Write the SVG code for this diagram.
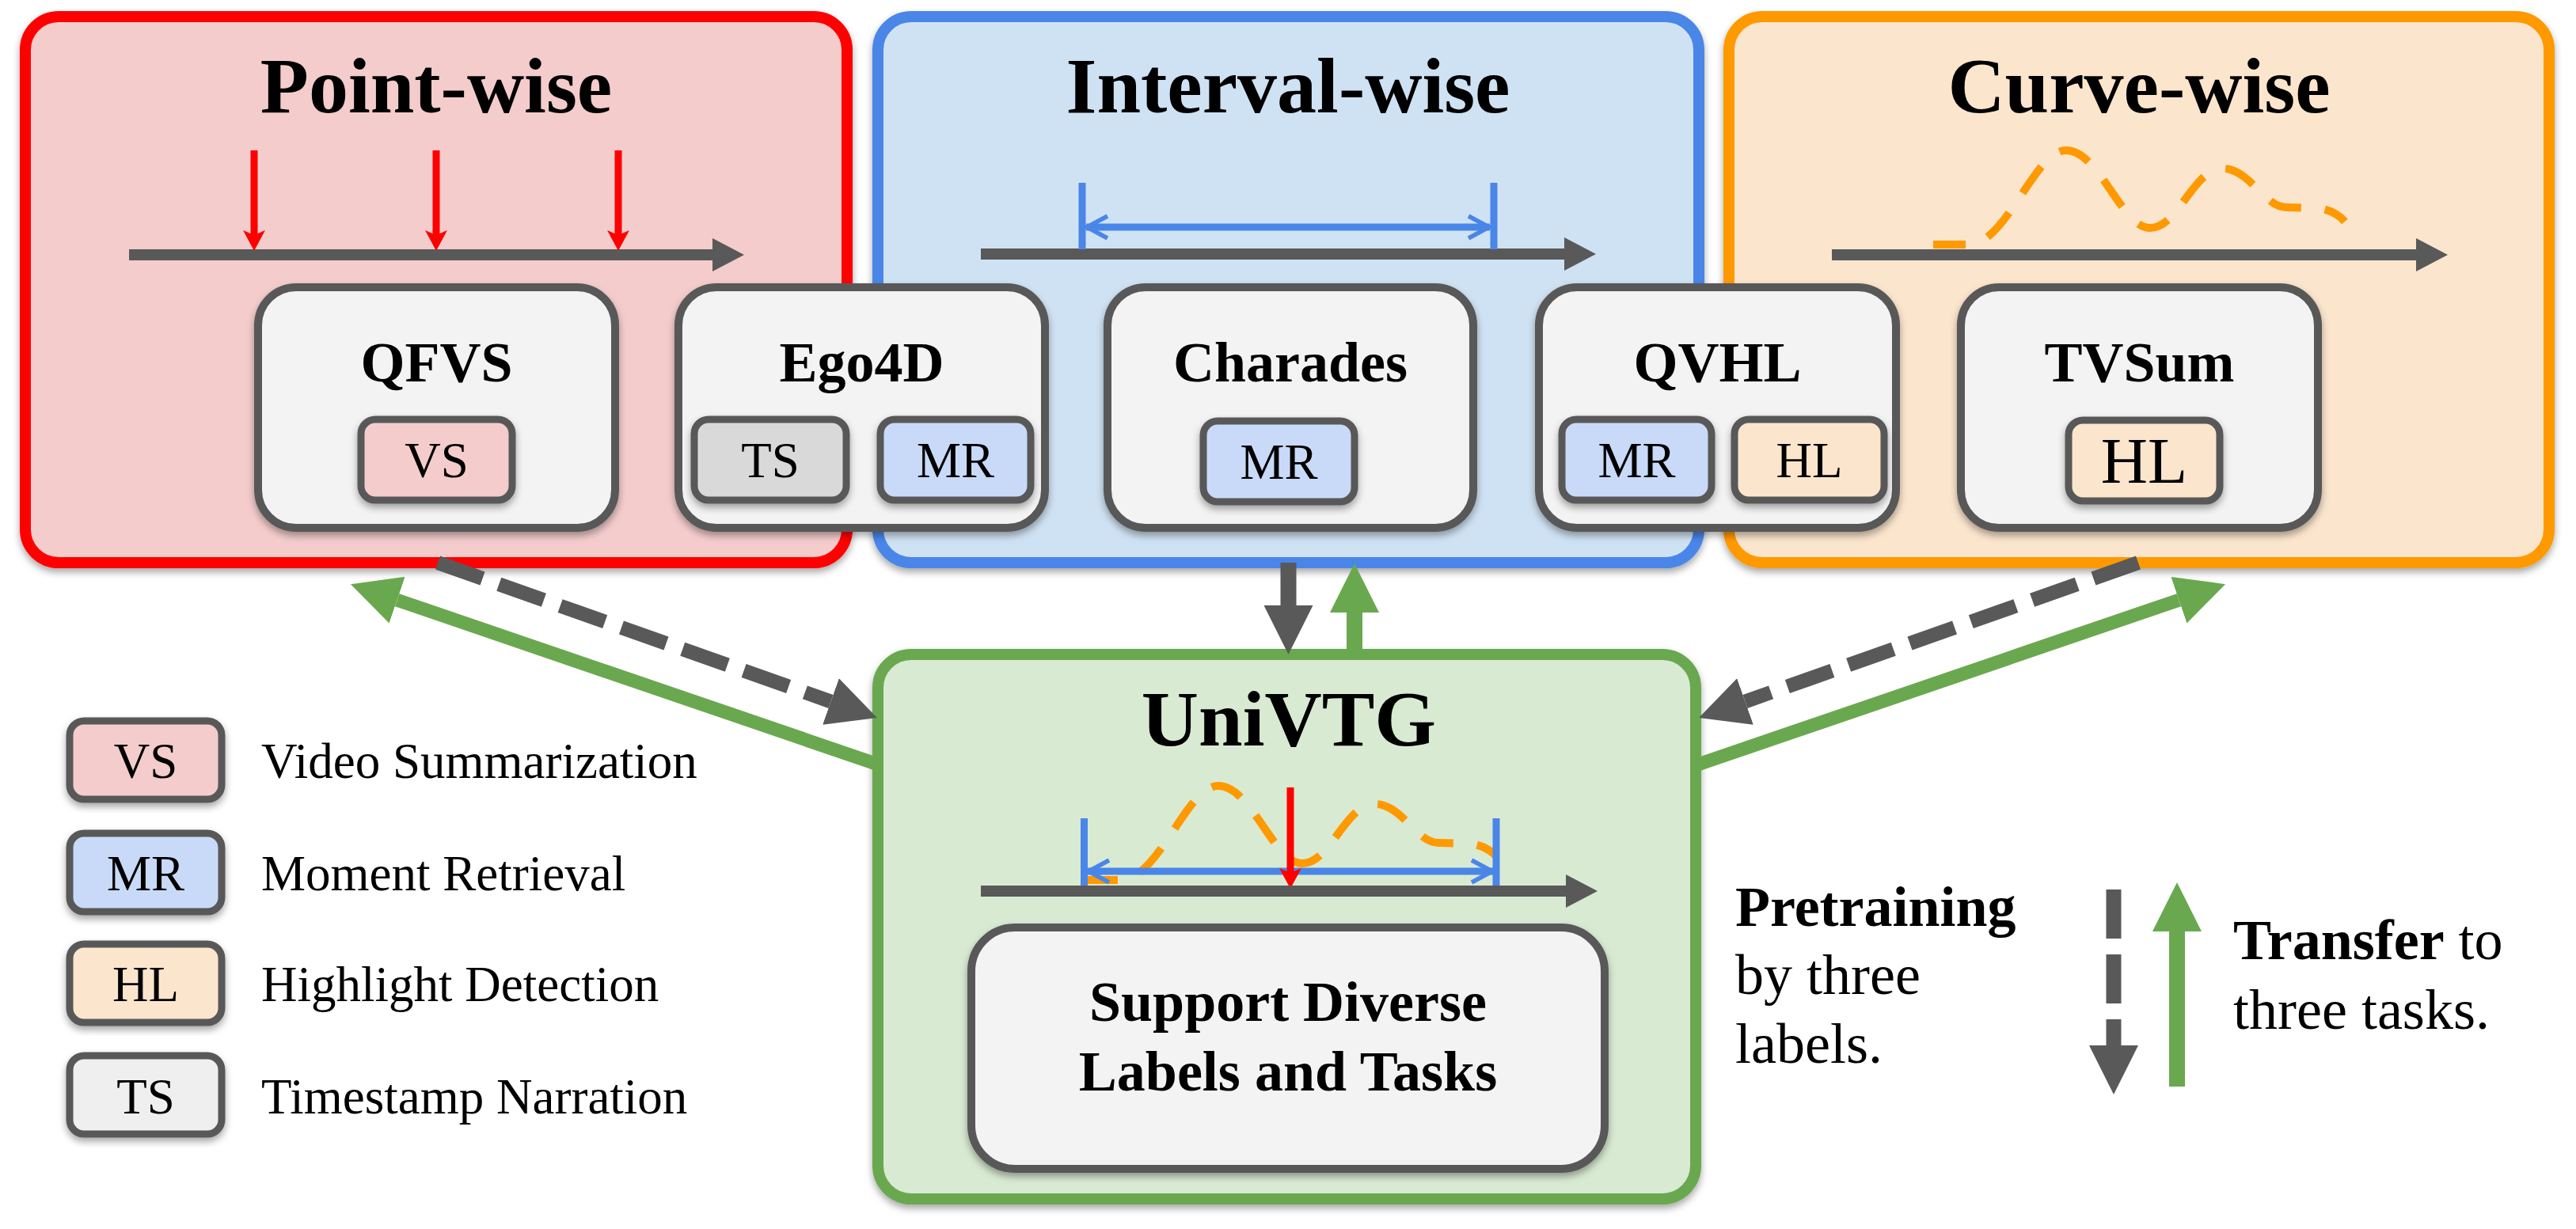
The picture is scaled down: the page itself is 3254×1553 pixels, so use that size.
<svg xmlns="http://www.w3.org/2000/svg" width="3254" height="1553" viewBox="0 0 3254 1553">
<defs>
<style>
.t{font-family:"Liberation Serif","Times New Roman",serif;fill:#000}
.title{font-size:100px;font-weight:bold;text-anchor:middle}
.nt{font-size:72px;font-weight:bold;text-anchor:middle}
.lb{font-size:63px;text-anchor:middle}
.lg{font-size:63px}
.side{font-size:72px}
.inner{fill:#f3f3f3;stroke:#595959;stroke-width:10}
.small{stroke:#595959;stroke-width:9}
.axis{stroke:#595959;stroke-width:14;fill:none}
.vs{fill:#f4cccc}.mr{fill:#c9daf8}.hl{fill:#fce5cd}.ts{fill:#d9d9d9}.ts2{fill:#efefef}
.bar{stroke:#4a86e8;stroke-width:9;fill:none}
.red{stroke:#ff0000;stroke-width:9;fill:none}
.curve{stroke:#ff9900;stroke-width:10;fill:none;stroke-dasharray:41 30}
</style>
<filter id="sh" x="-8%" y="-8%" width="116%" height="125%"><feDropShadow dx="0" dy="5" stdDeviation="5" flood-color="#000" flood-opacity="0.35"/></filter>
<marker id="axh" viewBox="0 -21 40 42" refX="0" refY="0" markerWidth="40" markerHeight="42" orient="auto" markerUnits="userSpaceOnUse"><path d="M0,-21 L40,0 L0,21 Z" fill="#595959"/></marker>
<marker id="ra" viewBox="0 -15 27 30" refX="6" refY="0" markerWidth="27" markerHeight="30" orient="auto" markerUnits="userSpaceOnUse"><path d="M0,-14 L26,0 L0,14 L6,0 Z" fill="#ff0000"/></marker>
<marker id="vb" viewBox="-32 -20 40 40" refX="0" refY="0" markerWidth="40" markerHeight="40" orient="auto-start-reverse" markerUnits="userSpaceOnUse"><path d="M-27,-14 L-1,0 L-27,14" fill="none" stroke="#4a86e8" stroke-width="5.5"/></marker>
<marker id="hg" viewBox="0 -31 62 62" refX="0" refY="0" markerWidth="62" markerHeight="62" orient="auto" markerUnits="userSpaceOnUse"><path d="M0,-31 L62,0 L0,31 Z" fill="#595959"/></marker>
<marker id="hgr" viewBox="0 -31 62 62" refX="0" refY="0" markerWidth="62" markerHeight="62" orient="auto" markerUnits="userSpaceOnUse"><path d="M0,-31 L62,0 L0,31 Z" fill="#6aa84f"/></marker>
<path id="crv" d="M2442,309 L2488,309 C2536,306 2570,190 2610,190 C2652,190 2680,288 2716,288 C2752,288 2770,213 2808,213 C2842,213 2860,262 2888,262 L2925,263 C2940,263 2955,272 2962,280"/>
</defs>

<g id="point-wise">
<rect x="32" y="21" width="1038" height="690" rx="42" fill="#f4cccc" stroke="#ff0000" stroke-width="14" filter="url(#sh)"/>
<text class="t title" x="551" y="142">Point-wise</text>
<path class="axis" d="M163,322 H900" marker-end="url(#axh)"/>
<path class="red" d="M321,190 V297" marker-end="url(#ra)"/>
<path class="red" d="M551,190 V297" marker-end="url(#ra)"/>
<path class="red" d="M781,190 V297" marker-end="url(#ra)"/>
</g>

<g id="interval-wise">
<rect x="1109" y="21" width="1037" height="690" rx="42" fill="#cfe2f3" stroke="#4a86e8" stroke-width="14" filter="url(#sh)"/>
<text class="t title" x="1627" y="142">Interval-wise</text>
<path class="axis" d="M1239,321 H1976" marker-end="url(#axh)"/>
<path class="bar" d="M1367,231 V315 M1887,231 V315"/>
<path class="bar" d="M1372,287 H1882" marker-start="url(#vb)" marker-end="url(#vb)"/>
</g>

<g id="curve-wise">
<rect x="2184" y="21" width="1036" height="690" rx="42" fill="#fce5cd" stroke="#ff9900" stroke-width="14" filter="url(#sh)"/>
<text class="t title" x="2702" y="142">Curve-wise</text>
<path class="axis" d="M2314,322 H3052" marker-end="url(#axh)"/>
<use href="#crv" class="curve"/>
</g>

<g id="qfvs">
<rect class="inner" x="326" y="363" width="451" height="304" rx="48" filter="url(#sh)"/>
<text class="t nt" x="551.5" y="482">QFVS</text>
<rect class="small vs" x="456" y="530" width="191" height="102" rx="18" filter="url(#sh)"/>
<text class="t lb" x="551.5" y="603">VS</text>
</g>

<g id="ego4d">
<rect class="inner" x="857" y="363" width="463" height="304" rx="48" filter="url(#sh)"/>
<text class="t nt" x="1088.5" y="482">Ego4D</text>
<rect class="small ts" x="877" y="530" width="192" height="102" rx="18" filter="url(#sh)"/>
<text class="t lb" x="973" y="603">TS</text>
<rect class="small mr" x="1112" y="530" width="190" height="102" rx="18" filter="url(#sh)"/>
<text class="t lb" x="1207" y="603">MR</text>
</g>

<g id="charades">
<rect class="inner" x="1399" y="363" width="462" height="304" rx="48" filter="url(#sh)"/>
<text class="t nt" x="1630" y="482">Charades</text>
<rect class="small mr" x="1520" y="532" width="191" height="102" rx="18" filter="url(#sh)"/>
<text class="t lb" x="1615.5" y="605">MR</text>
</g>

<g id="qvhl">
<rect class="inner" x="1944" y="363" width="451" height="304" rx="48" filter="url(#sh)"/>
<text class="t nt" x="2169.5" y="482">QVHL</text>
<rect class="small mr" x="1973" y="530" width="189" height="102" rx="18" filter="url(#sh)"/>
<text class="t lb" x="2067.5" y="603">MR</text>
<rect class="small hl" x="2191" y="530" width="189" height="102" rx="18" filter="url(#sh)"/>
<text class="t lb" x="2285.5" y="603">HL</text>
</g>

<g id="tvsum">
<rect class="inner" x="2477" y="363" width="451" height="304" rx="48" filter="url(#sh)"/>
<text class="t nt" x="2702.5" y="482">TVSum</text>
<rect class="small hl" x="2613" y="531" width="191" height="102" rx="18" filter="url(#sh)"/>
<text class="t lb" x="2708.5" y="610" style="font-size:82px">HL</text>
</g>

<g id="univtg">
<rect x="1109" y="827" width="1033" height="688" rx="42" fill="#d9ead3" stroke="#6aa84f" stroke-width="14" filter="url(#sh)"/>
<text class="t title" x="1628" y="942">UniVTG</text>
<use href="#crv" class="curve" transform="translate(-1071,803)"/>
<path class="bar" d="M1369.5,1034 V1120 M1890,1034 V1120"/>
<path class="bar" d="M1374,1101 H1886" marker-start="url(#vb)" marker-end="url(#vb)"/>
<path class="red" d="M1630,995 V1103" marker-end="url(#ra)"/>
<path class="axis" d="M1239,1126 H1978" marker-end="url(#axh)"/>
<rect class="inner" x="1227" y="1172" width="800" height="305" rx="55" filter="url(#sh)"/>
<text class="t nt" x="1627" y="1290">Support Diverse</text>
<text class="t nt" x="1627" y="1378">Labels and Tasks</text>
</g>

<g id="legend">
<rect class="small vs" x="88" y="911" width="192" height="99" rx="18" filter="url(#sh)"/>
<text class="t lb" x="184" y="983">VS</text>
<text class="t lg" x="330" y="983">Video Summarization</text>
<rect class="small mr" x="88" y="1053" width="192" height="99" rx="18" filter="url(#sh)"/>
<text class="t lb" x="184" y="1125">MR</text>
<text class="t lg" x="330" y="1125">Moment Retrieval</text>
<rect class="small hl" x="88" y="1193" width="192" height="99" rx="18" filter="url(#sh)"/>
<text class="t lb" x="184" y="1265">HL</text>
<text class="t lg" x="330" y="1265">Highlight Detection</text>
<rect class="small ts2" x="88" y="1334" width="192" height="99" rx="18" filter="url(#sh)"/>
<text class="t lb" x="184" y="1407">TS</text>
<text class="t lg" x="330" y="1407">Timestamp Narration</text>
</g>

<g id="side-legend">
<text class="t side" x="2192" y="1170" font-weight="bold">Pretraining</text>
<text class="t side" x="2192" y="1256">by three</text>
<text class="t side" x="2192" y="1343">labels.</text>
<path d="M2670,1124 V1321" stroke="#595959" stroke-width="19" fill="none" stroke-dasharray="62 20" marker-end="url(#hg)"/>
<path d="M2750,1373 V1177" stroke="#6aa84f" stroke-width="20" fill="none" marker-end="url(#hgr)"/>
<text class="t side" x="2821" y="1212"><tspan font-weight="bold">Transfer</tspan> to</text>
<text class="t side" x="2821" y="1300">three tasks.</text>
</g>

<g id="connectors">
<path d="M553,711 L1049.5,886.4" stroke="#595959" stroke-width="18" fill="none" stroke-dasharray="60 22" marker-end="url(#hg)"/>
<path d="M2701,711 L2204.5,886.4" stroke="#595959" stroke-width="18" fill="none" stroke-dasharray="60 22" marker-end="url(#hg)"/>
<path d="M1112,967 L501.6,758.2" stroke="#6aa84f" stroke-width="17" fill="none" marker-end="url(#hgr)"/>
<path d="M2142,967 L2752.4,758.2" stroke="#6aa84f" stroke-width="17" fill="none" marker-end="url(#hgr)"/>
<path d="M1627.5,711 V765" stroke="#595959" stroke-width="20" fill="none" marker-end="url(#hg)"/>
<path d="M1711,826 V774" stroke="#6aa84f" stroke-width="20" fill="none" marker-end="url(#hgr)"/>
</g>
</svg>
